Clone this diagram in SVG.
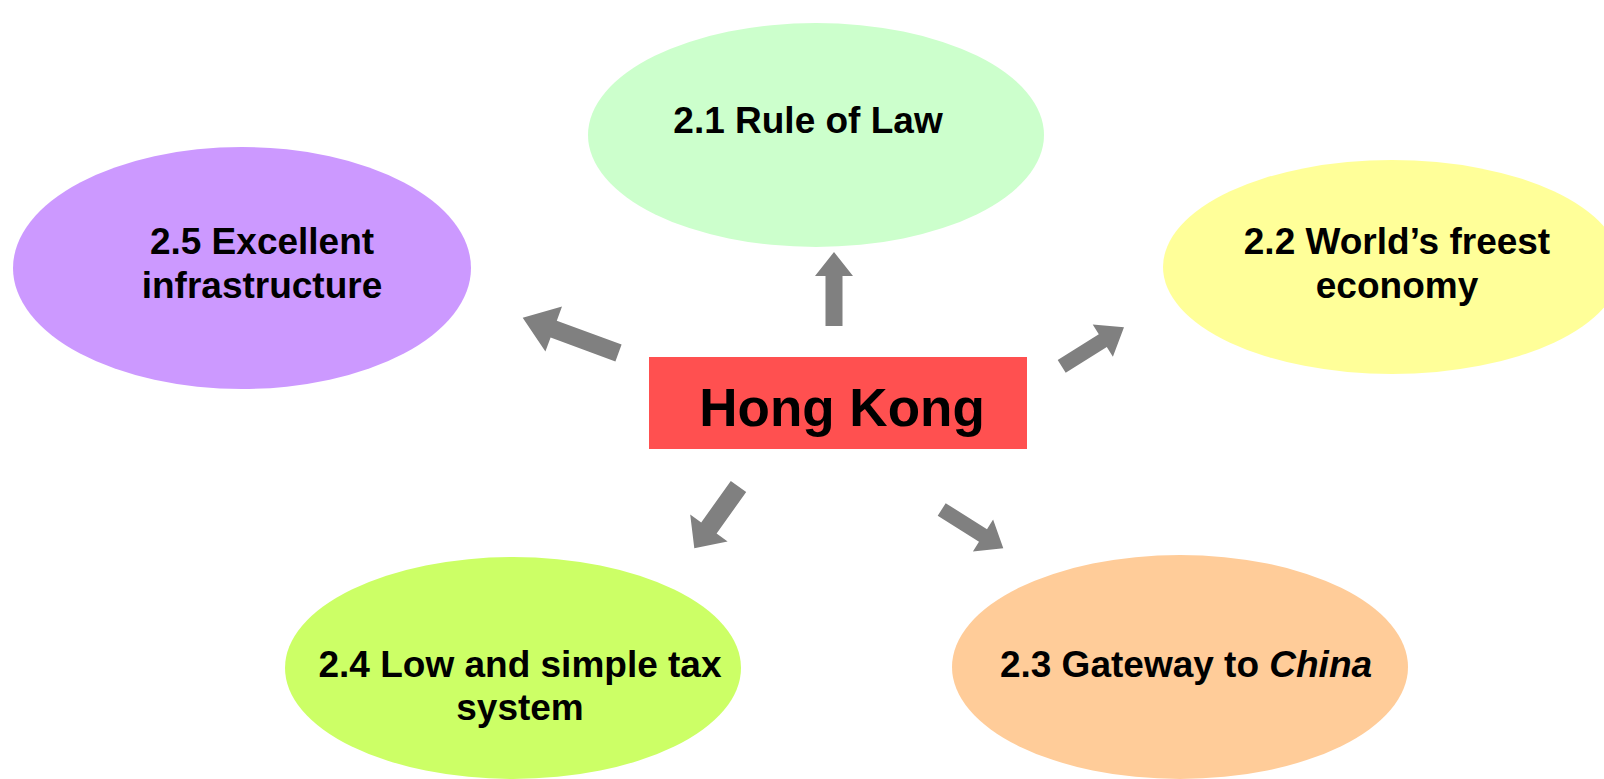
<svg xmlns="http://www.w3.org/2000/svg" width="1604" height="779" viewBox="0 0 1604 779">
<style>
.t{font-family:"Liberation Sans",Arial,sans-serif;font-weight:bold;font-size:37px;fill:#000;text-anchor:middle}
.hk{font-size:53px}
.arr{fill:#808080}
</style>
<rect width="1604" height="779" fill="#fff"/>
<g id="n21"><ellipse cx="816" cy="135" rx="228" ry="112" fill="#CCFFCC"/><text class="t" x="808" y="133">2.1 Rule of Law</text></g>
<g id="n25"><ellipse cx="242" cy="268" rx="229" ry="121" fill="#CC99FF"/><text class="t" x="262" y="254">2.5 Excellent</text><text class="t" x="262" y="298">infrastructure</text></g>
<g id="n22"><ellipse cx="1392" cy="267" rx="229" ry="107" fill="#FFFF99"/><text class="t" x="1397" y="254">2.2 World’s freest</text><text class="t" x="1397" y="298">economy</text></g>
<g id="n24"><ellipse cx="513" cy="668" rx="228" ry="111" fill="#CCFF66"/><text class="t" x="520" y="677">2.4 Low and simple tax</text><text class="t" x="520" y="720">system</text></g>
<g id="n23"><ellipse cx="1180" cy="667" rx="228" ry="112" fill="#FFCC99"/><text class="t" x="1186" y="677">2.3 Gateway to <tspan font-style="italic">China</tspan></text></g>
<g id="hk"><rect x="649" y="357" width="378" height="92" fill="#FF5050"/><text class="t hk" x="842" y="426">Hong Kong</text></g>
<g id="connectors">
<polygon class="arr" points="834,252 853,276 842.5,276 842.5,326 825.5,326 825.5,276 815,276"/>
<polygon class="arr" points="522.7,317.7 562,306.6 556.8,320.7 621.6,344.6 615.4,361.4 550.6,337.5 545.4,351.6"/>
<polygon class="arr" points="1124,327.3 1112.9,356.7 1106.8,347 1065.7,372.7 1057.7,359.9 1098.8,334.2 1092.7,324.5"/>
<polygon class="arr" points="694.3,548.3 727.6,541.4 716.6,533.5 746.2,492 730.8,481 701.2,522.5 690.2,514.6"/>
<polygon class="arr" points="1003.3,548.3 972.9,551.6 979,541.8 937.7,515.8 945.7,503.2 987,529.2 993.1,519.4"/>
</g>
</svg>
